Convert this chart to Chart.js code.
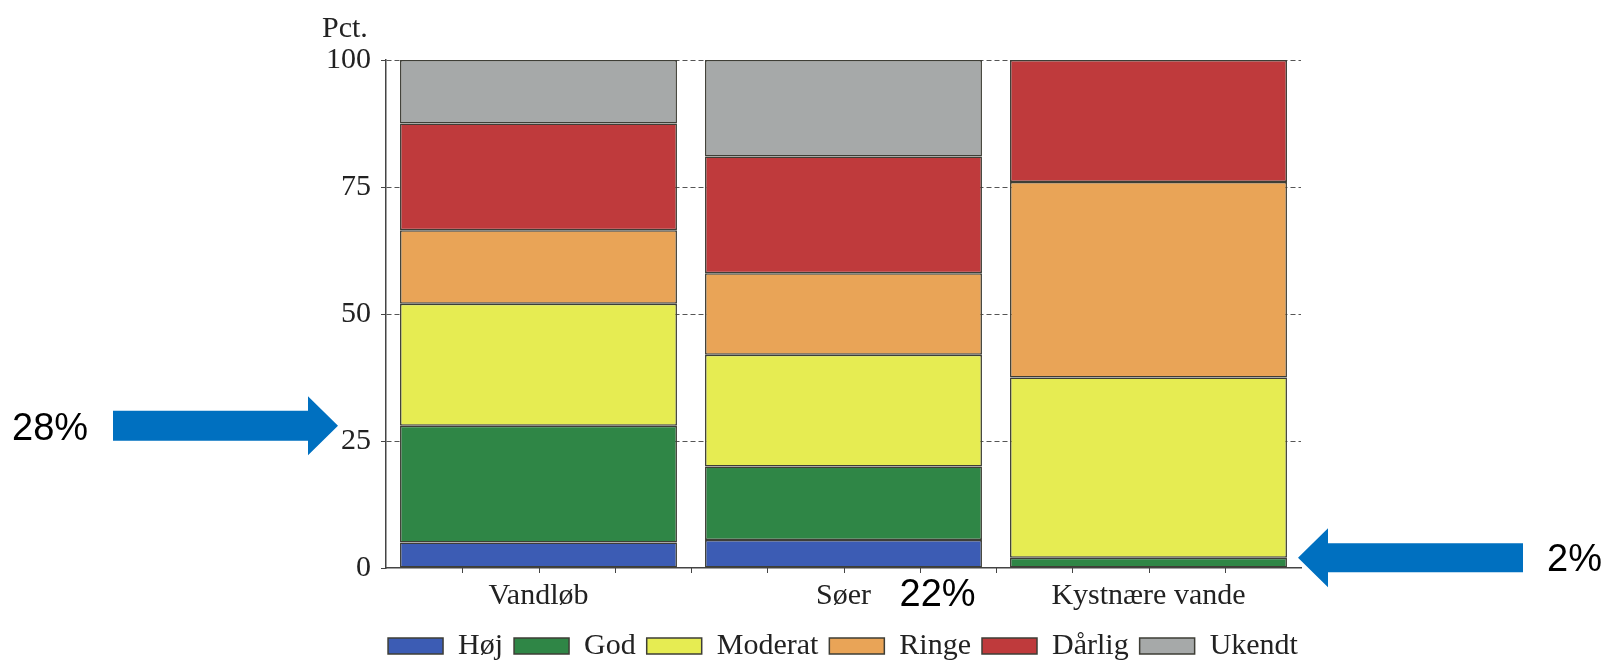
<!DOCTYPE html>
<html>
<head>
<meta charset="utf-8">
<script src="https://cdn.jsdelivr.net/npm/chart.js@4.4.1/dist/chart.umd.min.js"></script>
<style>
  html, body { margin: 0; padding: 0; background: #ffffff; overflow: hidden; }
  #wrap { width: 1605px; height: 663px; }
</style>
</head>
<body>
<div id="wrap"><canvas id="c" width="1605" height="663"></canvas></div>
<script>
// Tilstand for vandområder, fordelt på klasser (pct.)
const categories = ['Vandløb', 'Søer', 'Kystnære vande'];
const hoej    = [5,    5.5,  0];
const god     = [23,   14.5, 2];
const moderat = [24,   22,   35.5];
const ringe   = [14.5, 16,   38.5];
const daarlig = [21,   23,   24];
const ukendt  = [12.5, 19,   0];
const yTicks  = [0, 25, 50, 75, 100];

// Fremhævede andele (høj + god tilstand)
const calloutLeftText  = '28%';
const calloutRightText = '2%';
const calloutMidText   = '22%';

const serif = '"Liberation Serif", "Times New Roman", serif';
const sans  = '"Liberation Sans", Arial, sans-serif';
const edge  = '#3e3e36';

function series(label, data, color) {
  return {
    label, data,
    backgroundColor: color,
    borderColor: edge,
    borderWidth: 1.5,
    borderSkipped: false,
    categoryPercentage: 1.0,
    barPercentage: 0.908
  };
}

function drawArrow(ctx, tipX, tipY, dir, headLen, headH, shaftLen, shaftH) {
  // dir = 1 points right, dir = -1 points left
  const back = tipX - dir * headLen;
  const tail = back - dir * shaftLen;
  ctx.beginPath();
  ctx.moveTo(tipX, tipY);
  ctx.lineTo(back, tipY - headH / 2);
  ctx.lineTo(back, tipY - shaftH / 2);
  ctx.lineTo(tail, tipY - shaftH / 2);
  ctx.lineTo(tail, tipY + shaftH / 2);
  ctx.lineTo(back, tipY + shaftH / 2);
  ctx.lineTo(back, tipY + headH / 2);
  ctx.closePath();
  ctx.fill();
}

const decor = {
  id: 'decor',
  afterDraw(chart) {
    const { ctx, chartArea, scales: { x, y } } = chart;
    ctx.save();

    // small ticks along the category axis
    ctx.strokeStyle = '#444';
    ctx.lineWidth = 1;
    for (let k = 1; k < 12; k++) {
      const px = Math.round(x.getPixelForDecimal(k / 12)) + 0.5;
      ctx.beginPath();
      ctx.moveTo(px, chartArea.bottom);
      ctx.lineTo(px, chartArea.bottom + 5);
      ctx.stroke();
    }

    // unit label above the value axis
    ctx.fillStyle = '#222';
    ctx.font = '30px ' + serif;
    ctx.textAlign = 'left';
    ctx.textBaseline = 'alphabetic';
    ctx.fillText('Pct.', 322, 37);

    // callout arrows at the top of the "God" segment
    const leftVal  = hoej[0] + god[0];
    const rightVal = hoej[2] + god[2];
    ctx.fillStyle = '#0070c0';
    const y1 = y.getPixelForValue(leftVal);
    const y2 = y.getPixelForValue(rightVal);
    drawArrow(ctx, chartArea.left - 48, y1, 1, 30, 59, 195, 30);
    drawArrow(ctx, chartArea.right - 3, y2, -1, 30, 59, 195, 29);

    ctx.fillStyle = '#000';
    ctx.font = '38px ' + sans;
    ctx.textBaseline = 'middle';
    ctx.textAlign = 'left';
    ctx.fillText(calloutLeftText, 12, y1 + 4);
    ctx.fillText(calloutRightText, chartArea.right + 246, y2 + 3);
    ctx.fillText(calloutMidText, x.getPixelForValue(1) + 56, 596);

    ctx.restore();
  }
};

new Chart(document.getElementById('c'), {
  type: 'bar',
  data: {
    labels: categories,
    datasets: [
      series('Høj',     hoej,    '#3c5cb4'),
      series('God',     god,     '#2f8646'),
      series('Moderat', moderat, '#e6ec52'),
      series('Ringe',   ringe,   '#e9a457'),
      series('Dårlig',  daarlig, '#bf3a3c'),
      series('Ukendt',  ukendt,  '#a6a9a9')
    ]
  },
  options: {
    responsive: false,
    animation: false,
    devicePixelRatio: 1,
    layout: { padding: { top: 60, right: 0, bottom: -8, left: 81 } },
    plugins: {
      tooltip: { enabled: false },
      legend: {
        position: 'bottom',
        fullSize: true,
        labels: {
          boxWidth: 55,
          boxHeight: 16,
          padding: 11,
          color: '#222',
          font: { family: serif, size: 30 }
        }
      }
    },
    scales: {
      x: {
        stacked: true,
        grid: { display: false, drawTicks: false },
        border: { display: true, color: '#444', width: 1.5 },
        ticks: { color: '#222', padding: 10, font: { family: serif, size: 30 } },
        afterFit(s) { s.height = 52; }
      },
      y: {
        stacked: true,
        min: 0,
        max: 100,
        afterBuildTicks(s) { s.ticks = yTicks.map(v => ({ value: v })); },
        ticks: { color: '#222', padding: 10, font: { family: serif, size: 30 } },
        grid: {
          color: c => (c.tick && c.tick.value === 0) ? 'rgba(0,0,0,0)' : '#555',
          lineWidth: 1,
          tickLength: 5,
          tickColor: '#444'
        },
        border: { display: true, color: '#444', width: 1.5, dash: [5, 3] },
        afterFit(s) { s.width = 305; }
      },
      // empty margin on the right-hand side of the plot
      margin: {
        type: 'linear',
        position: 'right',
        display: true,
        grid: { display: false, drawTicks: false },
        border: { display: false },
        ticks: { display: false },
        afterFit(s) { s.width = 304; }
      }
    }
  },
  plugins: [decor]
});
</script>
</body>
</html>
